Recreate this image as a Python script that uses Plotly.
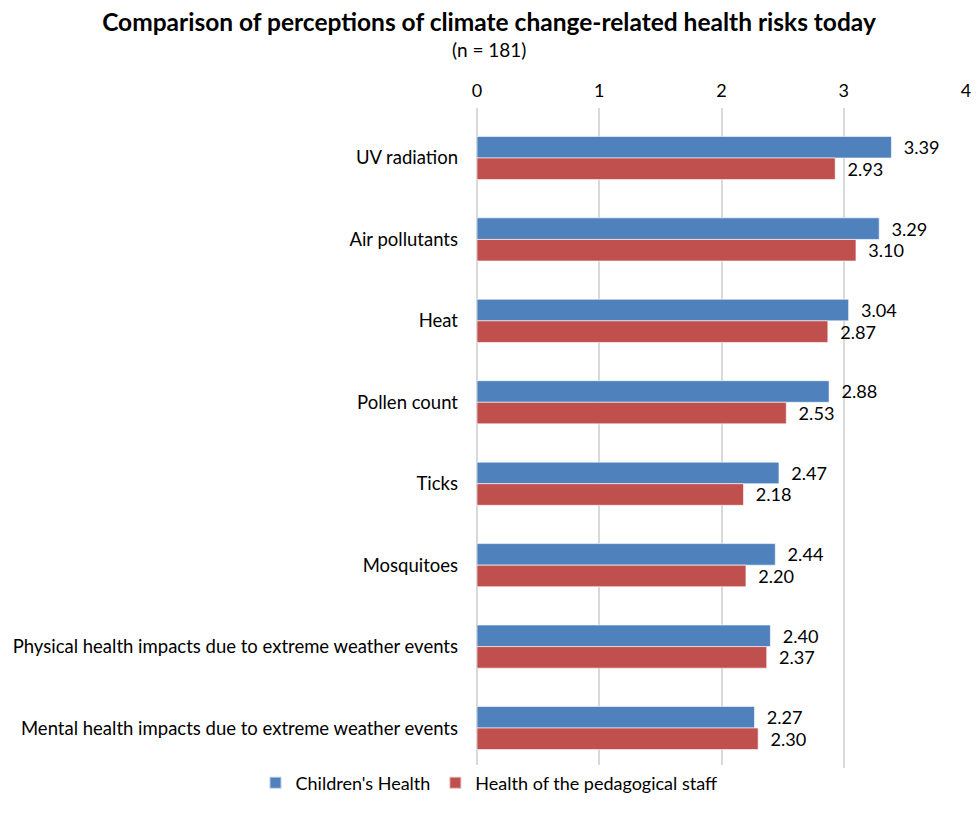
import plotly.graph_objects as go

categories = [
    "UV radiation",
    "Air pollutants",
    "Heat",
    "Pollen count",
    "Ticks",
    "Mosquitoes",
    "Physical health impacts due to extreme weather events",
    "Mental health impacts due to extreme weather events",
]
children = [3.39, 3.29, 3.04, 2.88, 2.47, 2.44, 2.40, 2.27]
staff = [2.93, 3.10, 2.87, 2.53, 2.18, 2.20, 2.37, 2.30]
series_names = ["Children's Health", "Health of the pedagogical staff"]
colors = ["#4F81BD", "#C0504D"]

FONT = "Lato, Open Sans, sans-serif"
W, H = 978, 822
L, R, T, B = 477, 12, 108, 54

fig = go.Figure()
for name, vals, col in zip(series_names, [children, staff], colors):
    fig.add_trace(go.Bar(
        y=categories, x=vals, name=name, orientation="h",
        marker=dict(color=col, line=dict(color="rgba(255,255,255,0.6)", width=1)),
        text=[f"  {v:.2f}" for v in vals], textposition="outside",
        textfont=dict(size=18.5, color="#000000", family=FONT),
        cliponaxis=False,
    ))

pw = W - L - R
ph = H - T - B

fig.update_layout(
    width=W, height=H,
    margin=dict(l=L, r=R, t=T, b=B, autoexpand=False),
    paper_bgcolor="white", plot_bgcolor="white",
    barmode="group", bargap=0.47, bargroupgap=0.0,
    font=dict(family=FONT, size=18, color="#000000"),
    showlegend=True,
    title=dict(text="<b>Comparison of perceptions of climate change-related health risks today</b>",
               xref="container", yref="container", x=0.5, xanchor="center",
               y=1 - 22 / H, yanchor="middle", font=dict(size=24.5, family=FONT)),
    legend=dict(orientation="h", xref="container", yref="container",
                x=0.5, xanchor="center", y=1 - 783 / H, yanchor="middle",
                font=dict(size=18), itemsizing="constant", traceorder="normal",
                itemwidth=30),
    xaxis=dict(range=[0, 4], dtick=1, side="top", showgrid=True,
               gridcolor="#D9D9D9", gridwidth=2, zeroline=True,
               zerolinecolor="#D9D9D9", zerolinewidth=2,
               showline=False, ticks="", tickfont=dict(size=18),
               ticklabelstandoff=6),
    yaxis=dict(range=[7.491, -0.614], showgrid=False, showline=False,
               ticks="", tickfont=dict(size=18.5), ticklabelstandoff=18),
)
fig.add_annotation(text="(n = 181)",
                   xref="paper", yref="paper",
                   x=(W / 2 - L) / pw, y=(H - B - 50) / ph,
                   xanchor="center", yanchor="middle", showarrow=False,
                   font=dict(size=19, family=FONT))

fig.write_html("out.html")
